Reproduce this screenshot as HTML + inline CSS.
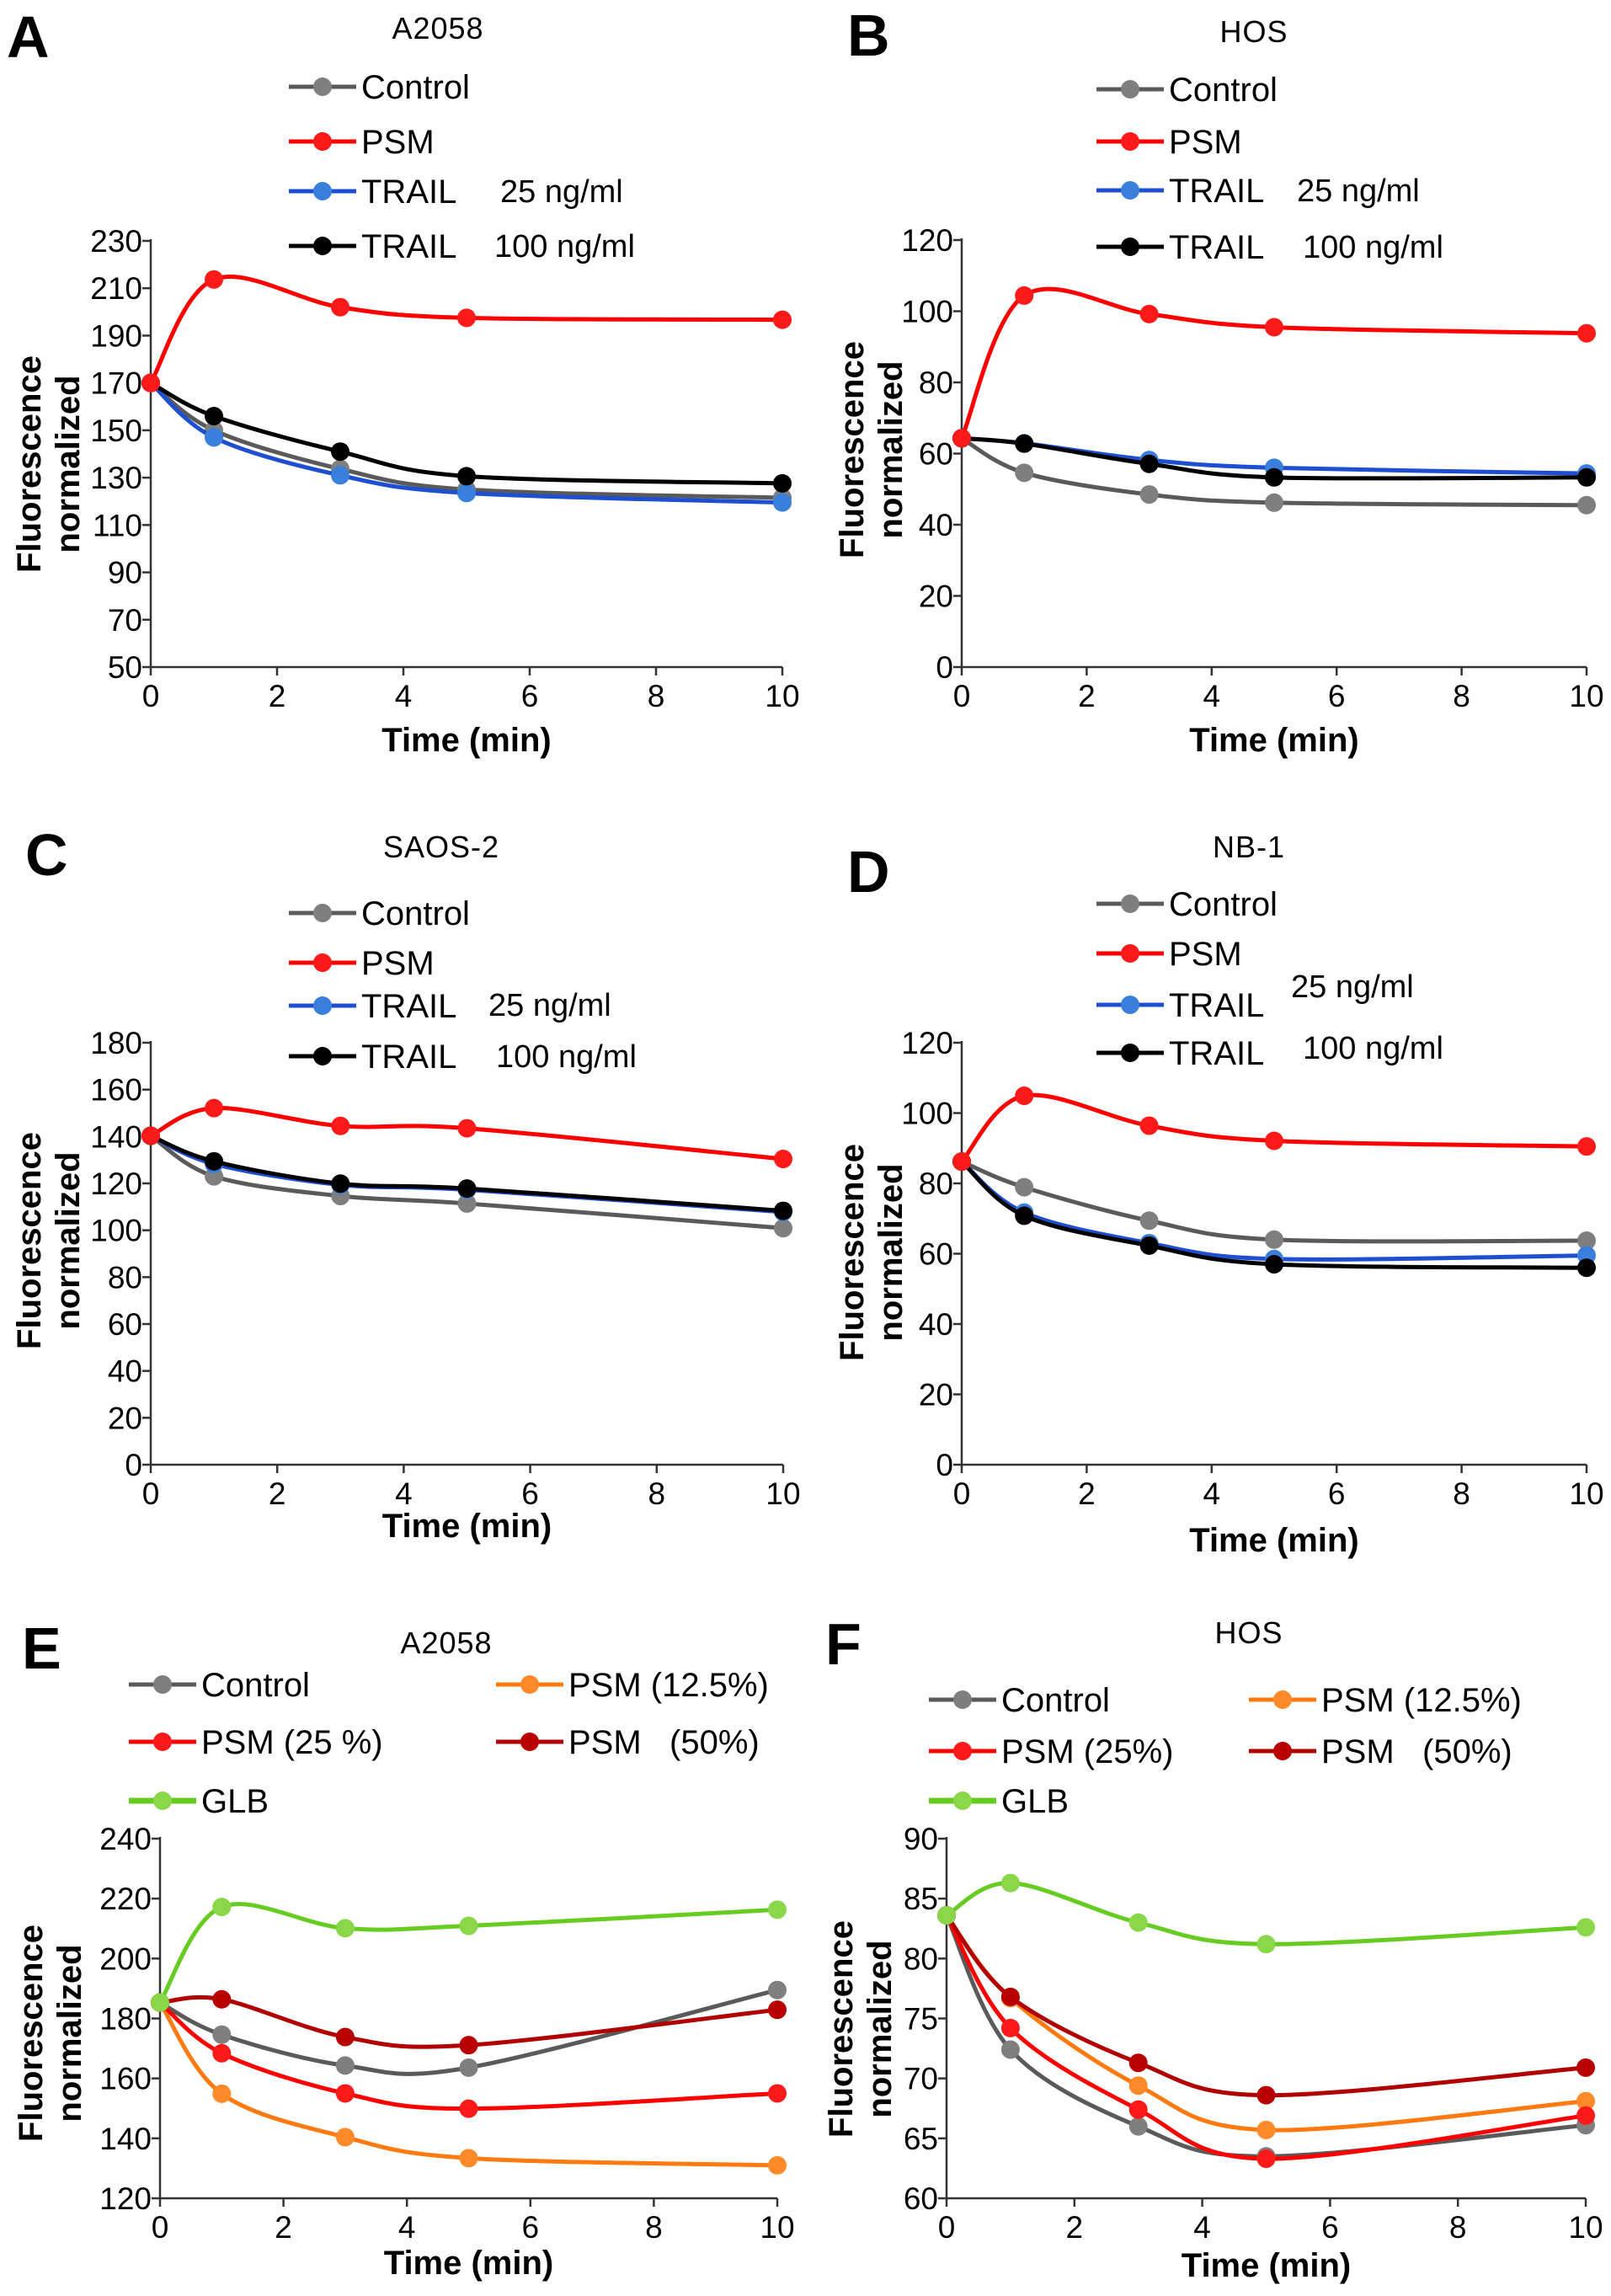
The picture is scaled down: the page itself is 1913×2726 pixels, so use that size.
<!DOCTYPE html>
<html><head><meta charset="utf-8">
<style>
html,body{margin:0;padding:0;background:#fff;}
svg{display:block;font-family:"Liberation Sans",Arial,sans-serif;}
</style></head>
<body>
<svg id="fig" width="1913" height="2726" viewBox="0 0 1913 2726" xmlns="http://www.w3.org/2000/svg"></svg>
<script>
const times = [0, 1, 3, 5, 10];
// Panel A (A2058)
const aControl = [170, 150, 133.7, 125, 121.5];
const aPSM = [170, 213.7, 202, 197.5, 196.7];
const aTrail25 = [170, 147, 131, 123.5, 119.5];
const aTrail100 = [170, 156, 141, 130.6, 127.6];
const aTicks = [50, 70, 90, 110, 130, 150, 170, 190, 210, 230];
// Panel B (HOS)
const bControl = [64.3, 54.6, 48.5, 46.2, 45.5];
const bPSM = [64.3, 104.4, 99.2, 95.5, 93.8];
const bTrail25 = [64.3, 62.9, 58.2, 56, 54.4];
const bTrail100 = [64.3, 62.8, 57.1, 53.3, 53.3];
const bTicks = [0, 20, 40, 60, 80, 100, 120];
// Panel C (SAOS-2)
const cControl = [140.3, 123, 114.6, 111.4, 100.9];
const cPSM = [140.3, 152.1, 144.5, 143.5, 130.4];
const cTrail25 = [140.3, 128.3, 119.4, 117.3, 107.8];
const cTrail100 = [140.3, 129.4, 119.9, 117.8, 108.3];
const cTicks = [0, 20, 40, 60, 80, 100, 120, 140, 160, 180];
// Panel D (NB-1)
const dControl = [86.2, 78.9, 69.4, 64, 63.7];
const dPSM = [86.2, 104.9, 96.4, 92.1, 90.5];
const dTrail25 = [86.2, 71.7, 63, 58.5, 59.5];
const dTrail100 = [86.2, 70.8, 62.3, 57, 56];
const dTicks = [0, 20, 40, 60, 80, 100, 120];
// Panel E (A2058 dose)
const eControl = [185.3, 174.6, 164.3, 163.6, 189.5];
const ePSM125 = [185.3, 154.9, 140.4, 133.4, 131];
const ePSM25 = [185.3, 168.4, 155, 149.9, 155];
const ePSM50 = [185.3, 186.4, 173.8, 171.1, 182.9];
const eGLB = [185.3, 217.2, 210.1, 210.9, 216.3];
const eTicks = [120, 140, 160, 180, 200, 220, 240];
// Panel F (HOS dose)
const fControl = [83.6, 72.4, 66, 63.5, 66.1];
const fPSM125 = [83.6, 76.7, 69.4, 65.7, 68.1];
const fPSM25 = [83.6, 74.2, 67.4, 63.3, 66.9];
const fPSM50 = [83.6, 76.8, 71.3, 68.6, 70.9];
const fGLB = [83.6, 86.3, 83, 81.2, 82.6];
const fTicks = [60, 65, 70, 75, 80, 85, 90];
const xTicks = [0, 2, 4, 6, 8, 10];

const NS = "http://www.w3.org/2000/svg";
const svg = document.getElementById('fig');
function el(tag, attrs, parent, text) {
  const e = document.createElementNS(NS, tag);
  for (const k in attrs) e.setAttribute(k, attrs[k]);
  if (text !== undefined) e.textContent = text;
  (parent || svg).appendChild(e);
  return e;
}
const COL = {
  gray: ['#5a5a5a', '#7f7f7f'], red: ['#ff0000', '#ff1a1a'], blue: ['#1d4fd0', '#3b7fdc'],
  black: ['#000', '#000'], orange: ['#ff7a10', '#ff8a2a'], dred: ['#b00000', '#b80000'], green: ['#66cc22', '#8ad84a']
};
function pathCR(pts) {
  let d = 'M' + pts[0][0] + ',' + pts[0][1];
  for (let i = 0; i < pts.length - 1; i++) {
    const p0 = pts[i - 1] || pts[i], p1 = pts[i], p2 = pts[i + 1], p3 = pts[i + 2] || p2;
    const c1x = p1[0] + (p2[0] - p0[0]) / 6, c1y = p1[1] + (p2[1] - p0[1]) / 6;
    const c2x = p2[0] - (p3[0] - p1[0]) / 6, c2y = p2[1] - (p3[1] - p1[1]) / 6;
    d += ' C' + c1x + ',' + c1y + ' ' + c2x + ',' + c2y + ' ' + p2[0] + ',' + p2[1];
  }
  return d;
}
function panel(cfg) {
  const g = el('g', {});
  
  
  const ymin = cfg.ticks[0], ymax = cfg.ticks[cfg.ticks.length - 1];
  const X = v => cfg.x0 + (cfg.x1 - cfg.x0) * v / 10;
  const Y = v => cfg.yb - (cfg.yb - cfg.yt) * (v - ymin) / (ymax - ymin);
  const L = el('text', {x: cfg.lx, y: cfg.ly, 'font-size': 70, 'font-weight': 'bold'}, g, cfg.letter);
  
  
  const T = el('text', {x: cfg.tx, y: cfg.ty, 'font-size': 36, 'text-anchor': 'middle', 'letter-spacing': 1}, g, cfg.title);
  
  
  const ax = el('path', {d: 'M' + cfg.x0 + ',' + (cfg.yt - 2) + ' V' + cfg.yb + ' H' + cfg.x1, stroke: '#333', 'stroke-width': 2.5, fill: 'none'}, g);
  
  
  cfg.ticks.forEach(v => {
    el('line', {x1: cfg.x0 - 10, x2: cfg.x0, y1: Y(v), y2: Y(v), stroke: '#333', 'stroke-width': 2.5}, g);
    const t = el('text', {x: cfg.x0 - 10, y: Y(v) + 13, 'font-size': 37, 'text-anchor': 'end'}, g, String(v));
    
    
  });
  xTicks.forEach(v => {
    el('line', {x1: X(v), x2: X(v), y1: cfg.yb, y2: cfg.yb + 10, stroke: '#333', 'stroke-width': 2.5}, g);
    const t = el('text', {x: X(v), y: cfg.yb + 47, 'font-size': 37, 'text-anchor': 'middle'}, g, String(v));
    
    
  });
  const xt = el('text', {x: (cfg.x0 + cfg.x1) / 2, y: cfg.xty, 'font-size': 40, 'font-weight': 'bold', 'text-anchor': 'middle'}, g, 'Time (min)');
  
  
  const yt = el('text', {transform: 'translate(' + cfg.ytx + ',' + cfg.ytc + ') rotate(-90)', 'font-size': 40, 'font-weight': 'bold', 'text-anchor': 'middle'}, g);
  
  
  el('tspan', {x: 0, y: 0}, yt, 'Fluorescence');
  el('tspan', {x: 0, y: 46}, yt, 'normalized');
  cfg.series.forEach(s => {
    const c = COL[s.color];
    const pts = times.map((t, i) => [X(t), Y(s.data[i])]);
    const p = el('path', {d: pathCR(pts), stroke: c[0], 'stroke-width': 5, fill: 'none'}, g);
    
    
    pts.forEach(pt => {
      const m = el('circle', {cx: pt[0], cy: pt[1], r: 11, fill: c[1]}, g);
      
      
    });
  });
  cfg.legend.forEach(it => {
    const c = COL[it.color];
    const lg = el('g', {}, g);
    
    
    el('line', {x1: it.x, x2: it.x + 80, y1: it.y, y2: it.y, stroke: c[0], 'stroke-width': it.color === 'green' ? 7 : 5}, lg);
    el('circle', {cx: it.x + 40, cy: it.y, r: 11, fill: c[1]}, lg);
    el('text', {x: it.x + 86, y: it.y + 14, 'font-size': 40}, lg, it.label);
  });
  (cfg.notes || []).forEach(n => {
    const t = el('text', {x: n[0], y: n[1], 'font-size': 38}, g, n[2]);
    
    
  });
}
function trailLegend(x, ys) {
  return [
    {x, y: ys[0], color: 'gray', label: 'Control'},
    {x, y: ys[1], color: 'red', label: 'PSM'},
    {x, y: ys[2], color: 'blue', label: 'TRAIL'},
    {x, y: ys[3], color: 'black', label: 'TRAIL'}];
}
function trailSeries(c, p, t25, t100) {
  return [
    {key: 'control', color: 'gray', data: c},
    {key: 'trail-25', color: 'blue', data: t25},
    {key: 'trail-100', color: 'black', data: t100},
    {key: 'psm', color: 'red', data: p}];
}
panel({id: 'a', letter: 'A', lx: 8, ly: 68, title: 'A2058', tx: 520, ty: 46, x0: 179, x1: 929, yt: 286, yb: 792, ticks: aTicks,
  xty: 892, ytx: 48, ytc: 551, legend: trailLegend(343, [103, 168, 227, 292]),
  notes: [[594, 240, '25 ng/ml'], [587, 305, '100 ng/ml']], series: trailSeries(aControl, aPSM, aTrail25, aTrail100)});
panel({id: 'b', letter: 'B', lx: 1006, ly: 66, title: 'HOS', tx: 1489, ty: 50, x0: 1142, x1: 1884, yt: 285, yb: 792, ticks: bTicks,
  xty: 892, ytx: 1025, ytc: 534, legend: trailLegend(1302, [106, 168, 226, 293]),
  notes: [[1540, 239, '25 ng/ml'], [1547, 306, '100 ng/ml']], series: trailSeries(bControl, bPSM, bTrail25, bTrail100)});
panel({id: 'c', letter: 'C', lx: 30, ly: 1039, title: 'SAOS-2', tx: 524, ty: 1018, x0: 179, x1: 930, yt: 1238, yb: 1739, ticks: cTicks,
  xty: 1825, ytx: 48, ytc: 1473, legend: trailLegend(343, [1084, 1143, 1194, 1254]),
  notes: [[580, 1206, '25 ng/ml'], [589, 1267, '100 ng/ml']], series: trailSeries(cControl, cPSM, cTrail25, cTrail100)});
panel({id: 'd', letter: 'D', lx: 1006, ly: 1059, title: 'NB-1', tx: 1483, ty: 1018, x0: 1142, x1: 1884, yt: 1238, yb: 1739, ticks: dTicks,
  xty: 1842, ytx: 1025, ytc: 1487, legend: trailLegend(1302, [1073, 1132, 1193, 1250]),
  notes: [[1533, 1184, '25 ng/ml'], [1547, 1257, '100 ng/ml']], series: trailSeries(dControl, dPSM, dTrail25, dTrail100)});
function doseLegend(x1, x2, ys, lbl25, lbl50) {
  return [
    {x: x1, y: ys[0], color: 'gray', label: 'Control'},
    {x: x2, y: ys[0], color: 'orange', label: 'PSM (12.5%)'},
    {x: x1, y: ys[1], color: 'red', label: lbl25},
    {x: x2, y: ys[1], color: 'dred', label: lbl50},
    {x: x1, y: ys[2], color: 'green', label: 'GLB'}];
}
function doseSeries(c, o, r, d, gr) {
  return [
    {key: 'control', color: 'gray', data: c},
    {key: 'psm-12-5', color: 'orange', data: o},
    {key: 'psm-25', color: 'red', data: r},
    {key: 'psm-50', color: 'dred', data: d},
    {key: 'glb', color: 'green', data: gr}];
}
panel({id: 'e', letter: 'E', lx: 26, ly: 1981, title: 'A2058', tx: 530, ty: 1963, x0: 190, x1: 923, yt: 2183, yb: 2610, ticks: eTicks,
  xty: 2700, ytx: 50, ytc: 2414, legend: doseLegend(153, 589, [2000, 2068, 2138], 'PSM (25\u00a0%)', 'PSM\u00a0\u00a0\u00a0(50%)'),
  series: doseSeries(eControl, ePSM125, ePSM25, ePSM50, eGLB)});
panel({id: 'f', letter: 'F', lx: 980, ly: 1976, title: 'HOS', tx: 1483, ty: 1951, x0: 1124, x1: 1883, yt: 2183, yb: 2610, ticks: fTicks,
  xty: 2703, ytx: 1012, ytc: 2409, legend: doseLegend(1103, 1483, [2018, 2079, 2138], 'PSM (25%)', 'PSM\u00a0\u00a0\u00a0(50%)'),
  series: doseSeries(fControl, fPSM125, fPSM25, fPSM50, fGLB)});
</script>
</body></html>
